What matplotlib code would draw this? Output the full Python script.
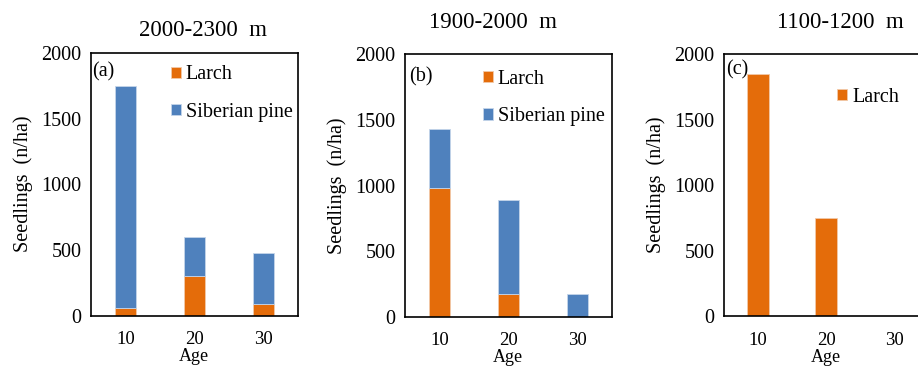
import matplotlib
matplotlib.use("Agg")
import matplotlib.pyplot as plt

plt.rcParams['font.family'] = ['Liberation Serif', 'DejaVu Serif']

ages = ['10', '20', '30']
titles = ['2000-2300  m', '1900-2000  m', '1100-1200  m']
tags = ['(a)', '(b)', '(c)']

larch_a = [60, 300, 90]
pine_a = [1690, 300, 390]
larch_b = [980, 175, 0]
pine_b = [450, 715, 175]
larch_c = [1850, 750, 0]

orange = '#E46C0A'
blue = '#4F81BD'

fig = plt.figure(figsize=(9.18, 3.74), dpi=100)
ax1 = fig.add_axes([0.0991, 0.1559, 0.2252, 0.703])
ax2 = fig.add_axes([0.4412, 0.1524, 0.2252, 0.7032])
ax3 = fig.add_axes([0.7887, 0.1543, 0.2222, 0.7013])

w = 0.31
x = range(len(ages))


def style(ax, tag, tagpos):
    ax.set_xlim(-0.5, 2.5)
    ax.set_ylim(0, 2000)
    ax.set_yticks([0, 500, 1000, 1500, 2000])
    ax.set_xticks(list(x))
    ax.set_xticklabels(ages)
    ax.tick_params(length=0)
    ax.tick_params(axis='y', labelsize=14.5, pad=7)
    ax.tick_params(axis='x', labelsize=13.5, pad=11)
    ax.set_xlabel('Age', fontsize=13, labelpad=0)
    ax.set_ylabel('Seedlings  (n/ha)', fontsize=14.5, labelpad=6)
    for s in ax.spines.values():
        s.set_linewidth(1.2)
    ax.text(tagpos[0], tagpos[1], tag, transform=ax.transAxes, fontsize=14.5,
            va='center', ha='left')


leg_kw = dict(loc='upper left', frameon=False, fontsize=14.5, handlelength=0.5,
              handleheight=0.5, handletextpad=0.25, labelspacing=0.9,
              borderaxespad=0, borderpad=0)

# (a)
ax1.bar(x, larch_a, w, color=orange, edgecolor='#F2C9A8', linewidth=0.6, label='Larch')
ax1.bar(x, pine_a, w, bottom=larch_a, color=blue, edgecolor='#C5D5EA', linewidth=0.6, label='Siberian pine')
style(ax1, tags[0], (0.005, 0.927))
ax1.legend(bbox_to_anchor=(0.385, 0.952), **leg_kw)

# (b)
ax2.bar(x, larch_b, w, color=orange, edgecolor='#F2C9A8', linewidth=0.6, label='Larch')
ax2.bar(x, pine_b, w, bottom=larch_b, color=blue, edgecolor='#C5D5EA', linewidth=0.6, label='Siberian pine')
style(ax2, tags[1], (0.02, 0.912))
ax2.legend(bbox_to_anchor=(0.375, 0.94), **leg_kw)

# (c)
ax3.bar(x, larch_c, w, color=orange, edgecolor='#F2C9A8', linewidth=0.6, label='Larch')
style(ax3, tags[2], (0.01, 0.94))
ax3.legend(bbox_to_anchor=(0.555, 0.872), **leg_kw)

# panel titles
fig.text(203 / 918, 1 - 30 / 374, titles[0], fontsize=16.5, ha='center', va='center')
fig.text(493 / 918, 1 - 23 / 374, titles[1], fontsize=16.5, ha='center', va='center')
fig.text(840 / 918, 1 - 22 / 374, titles[2], fontsize=16.5, ha='center', va='center')

fig.savefig('out.png', dpi=100)
